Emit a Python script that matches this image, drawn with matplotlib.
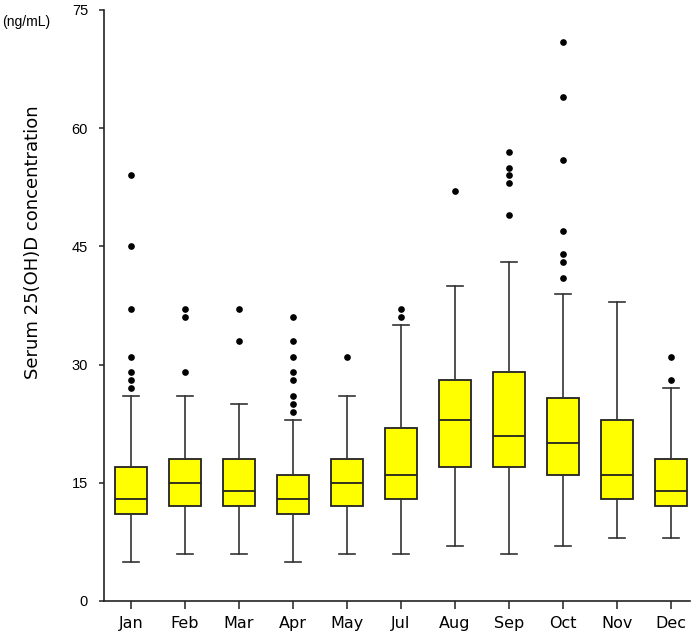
import matplotlib
matplotlib.use("Agg")
import matplotlib.pyplot as plt

months = ['Jan', 'Feb', 'Mar', 'Apr', 'May', 'Jul', 'Aug', 'Sep', 'Oct', 'Nov', 'Dec']
q1 = [11, 12, 12, 11, 12, 13, 17, 17, 16, 13, 12]
med = [13, 15, 14, 13, 15, 16, 23, 21, 20, 16, 14]
q3 = [17, 18, 18, 16, 18, 22, 28, 29, 25.8, 23, 18]
whislo = [5, 6, 6, 5, 6, 6, 7, 6, 7, 8, 8]
whishi = [26, 26, 25, 23, 26, 35, 40, 43, 39, 38, 27]
fliers = [
  [27, 28, 29, 31, 37, 45, 54],
  [29, 36, 37],
  [33, 37],
  [24, 25, 26, 28, 29, 31, 33, 36],
  [31],
  [36, 37],
  [52],
  [49, 53, 54, 55, 57],
  [41, 43, 44, 47, 56, 64, 71],
  [],
  [28, 31],
]
yticks = [0, 15, 30, 45, 60, 75]

stats = []
for i, m in enumerate(months):
  stats.append(dict(label=m, q1=q1[i], med=med[i], q3=q3[i],
                    whislo=whislo[i], whishi=whishi[i], fliers=fliers[i]))

fig = plt.figure(figsize=(7, 6.35), dpi=100)
ax = fig.add_axes([104/700, 34/635, 586/700, 591/635])

edge = '#222222'
ax.bxp(stats, positions=range(1, len(months) + 1), widths=0.6, capwidths=0.3,
       patch_artist=True,
       boxprops=dict(facecolor='#ffff00', edgecolor=edge, linewidth=1.3),
       medianprops=dict(color=edge, linewidth=1.3),
       whiskerprops=dict(color='#333333', linewidth=1.2),
       capprops=dict(color='#333333', linewidth=1.2),
       flierprops=dict(marker='o', markerfacecolor='black', markeredgecolor='black',
                       markersize=3.8, linestyle='none'))

ax.set_xlim(0.5, 11.35)
ax.set_ylim(0, 75)
ax.set_yticks(yticks)
ax.set_yticklabels([str(t) for t in yticks], family='Liberation Sans', fontsize=10.5)
ax.set_xticks(range(1, len(months) + 1))
ax.set_xticklabels(months, family='DejaVu Sans', fontsize=11.5)

for s in ['top', 'right']:
  ax.spines[s].set_visible(False)
for s in ['left', 'bottom']:
  ax.spines[s].set_color(edge)
  ax.spines[s].set_linewidth(1.2)
ax.tick_params(axis='x', direction='out', length=6, width=1.1, color=edge, pad=5)
ax.tick_params(axis='y', direction='out', length=3.5, width=1.1, color=edge, pad=8)

fig.text(33/700, 1 - 242/635, 'Serum 25(OH)D concentration', rotation=90,
         ha='center', va='center', family='DejaVu Sans', fontsize=13)
fig.text(2/700, 1 - 22/635, '(ng/mL)', ha='left', va='center',
         family='Liberation Sans', fontsize=10)

fig.savefig('out.png', dpi=100, facecolor='white')
